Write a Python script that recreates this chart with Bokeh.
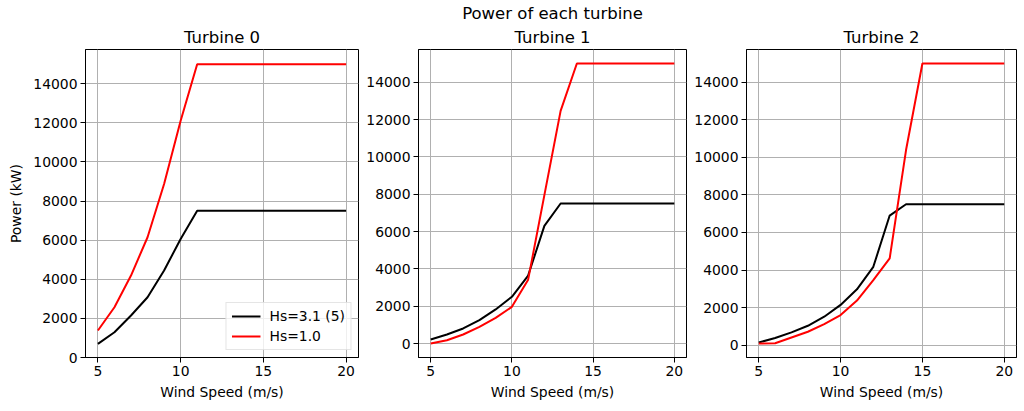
from bokeh.plotting import figure
from bokeh.models import Range1d, FixedTicker, Title, Legend, LegendItem
from bokeh.layouts import row
from bokeh.embed import file_html
from bokeh.resources import INLINE

# ---- data ----
wind_speed = [5, 6, 7, 8, 9, 10, 11, 12, 13, 14, 15, 16, 17, 18, 19, 20]

t0_hs31 = [700, 1290, 2150, 3080, 4450, 6060, 7500, 7500, 7500, 7500, 7500, 7500, 7500, 7500, 7500, 7500]
t0_hs10 = [1380, 2570, 4190, 6150, 8870, 12110, 15000, 15000, 15000, 15000, 15000, 15000, 15000, 15000, 15000, 15000]

t1_hs31 = [215, 483, 805, 1250, 1824, 2500, 3640, 6300, 7500, 7500, 7500, 7500, 7500, 7500, 7500, 7500]
t1_hs10 = [0, 177, 483, 890, 1375, 1965, 3420, 7950, 12460, 15000, 15000, 15000, 15000, 15000, 15000, 15000]

t2_hs31 = [140, 375, 675, 1030, 1510, 2140, 2970, 4170, 6900, 7500, 7500, 7500, 7500, 7500, 7500, 7500]
t2_hs10 = [85, 100, 406, 710, 1120, 1600, 2370, 3460, 4620, 10390, 15000, 15000, 15000, 15000, 15000, 15000]

panel_titles = ["Turbine 0", "Turbine 1", "Turbine 2"]
series_labels = ["Hs=3.1 (5)", "Hs=1.0"]
suptitle = "Power of each turbine"
x_label = "Wind Speed (m/s)"
y_label = "Power (kW)"
x_ticks = [5, 10, 15, 20]
y_ticks = [0, 2000, 4000, 6000, 8000, 10000, 12000, 14000]

FONT = "DejaVu Sans"
TICK_FS = "13.9px"
TITLE_FS = "16.5px"
GRID = "#b0b0b0"


def pad_range(vals_a, vals_b, lo_zero=False):
    lo = min(min(vals_a), min(vals_b))
    hi = max(max(vals_a), max(vals_b))
    m = 0.05 * (hi - lo)
    if lo_zero:
        return Range1d(0, hi + 0.05 * (hi - 0))
    return Range1d(lo - m, hi + m)


def style_title(t, standoff):
    t.text_font = FONT
    t.text_font_size = TITLE_FS
    t.text_font_style = "normal"
    t.text_color = "black"
    t.align = "center"
    t.standoff = standoff


def make_panel(idx, a, b, width, left, right, ylabel=False, lo_zero=False, legend=False, extra_title=None):
    xlo, xhi = min(wind_speed), max(wind_speed)
    xm = 0.05 * (xhi - xlo)
    p = figure(width=width, height=411, output_backend="svg", toolbar_location=None,
               x_range=Range1d(xlo - xm, xhi + xm), y_range=pad_range(a, b, lo_zero),
               min_border_left=left, min_border_right=right, min_border_top=49, min_border_bottom=54)
    if extra_title is not None:
        # figure's own title sits outermost; appended titles go nearer the frame
        p.title.text = extra_title
        style_title(p.title, 0)
        t = Title(text=panel_titles[idx])
        style_title(t, 6)
        p.add_layout(t, "above")
    else:
        p.title.text = panel_titles[idx]
        style_title(p.title, 6)

    la = p.line(wind_speed, a, line_color="black", line_width=2)
    lb = p.line(wind_speed, b, line_color="red", line_width=2)

    p.xaxis.ticker = FixedTicker(ticks=x_ticks)
    p.yaxis.ticker = FixedTicker(ticks=y_ticks)
    for ax in (p.xaxis[0], p.yaxis[0]):
        ax.major_label_text_font = FONT
        ax.major_label_text_font_size = TICK_FS
        ax.major_label_text_color = "black"
        ax.axis_label_text_font = FONT
        ax.axis_label_text_font_size = TICK_FS
        ax.axis_label_text_font_style = "normal"
        ax.axis_label_text_color = "black"
        ax.major_tick_out = 5
        ax.major_tick_in = 0
        ax.minor_tick_out = 0
        ax.minor_tick_in = 0
        ax.major_tick_line_color = "black"
        ax.axis_line_color = "black"
        ax.major_label_standoff = 3
    p.xaxis.axis_label = x_label
    p.xaxis.axis_label_standoff = 5
    if ylabel:
        p.yaxis.axis_label = y_label
        p.yaxis.axis_label_standoff = 6
    p.xgrid.grid_line_color = GRID
    p.ygrid.grid_line_color = GRID
    p.xgrid.grid_line_width = 1
    p.ygrid.grid_line_width = 1
    p.outline_line_color = "black"
    p.outline_line_width = 1
    p.outline_line_alpha = 1
    p.background_fill_color = "white"
    p.border_fill_color = "white"

    if legend:
        lg = Legend(items=[LegendItem(label=series_labels[0], renderers=[la]),
                           LegendItem(label=series_labels[1], renderers=[lb])],
                    location="bottom_right")
        lg.label_text_font = FONT
        lg.label_text_font_size = TICK_FS
        lg.label_text_color = "black"
        lg.glyph_width = 29
        lg.glyph_height = 14
        lg.label_standoff = 9
        lg.spacing = 4
        lg.padding = 5
        lg.margin = 7
        lg.border_line_color = "#cccccc"
        lg.background_fill_alpha = 0.8
        p.add_layout(lg)
    return p


p0 = make_panel(0, t0_hs31, t0_hs10, 363, 85, 5, ylabel=True, lo_zero=True, legend=True)
p1 = make_panel(1, t1_hs31, t1_hs10, 328, 50, 5, extra_title=suptitle)
p2 = make_panel(2, t2_hs31, t2_hs10, 333, 51, 8)

layout = row(p0, p1, p2)
open("out.html", "w").write(file_html(layout, INLINE))
